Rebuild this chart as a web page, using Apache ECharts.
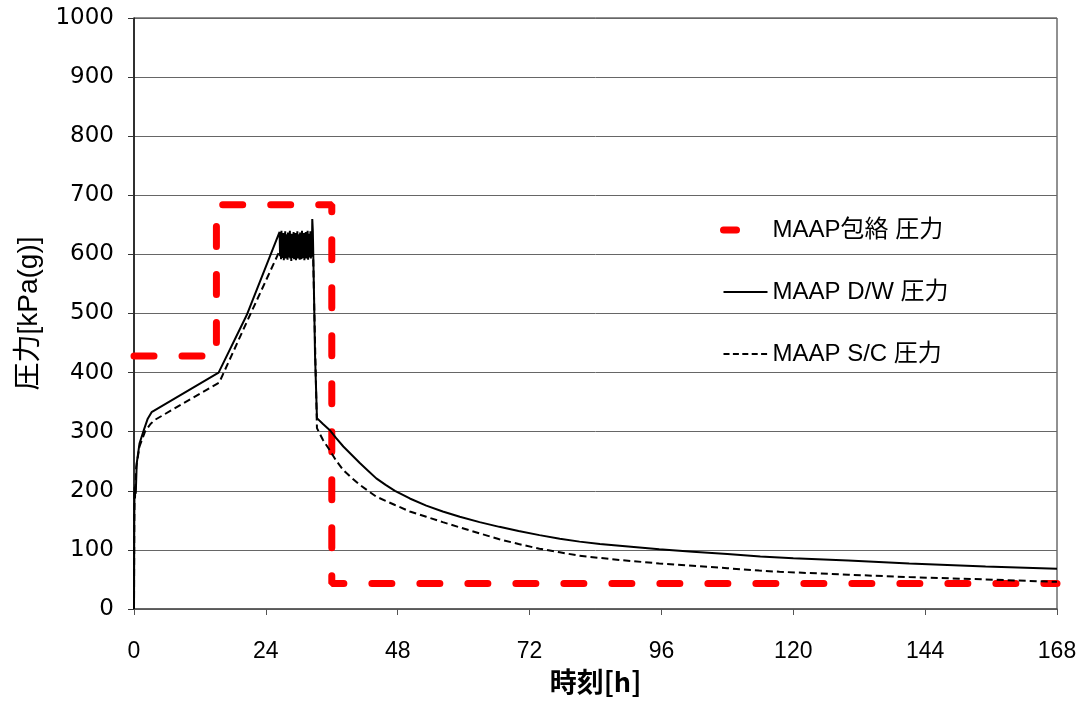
<!DOCTYPE html>
<html>
<head>
<meta charset="utf-8">
<script src="https://cdn.jsdelivr.net/npm/echarts@6/dist/echarts.min.js"></script>
<style>
html,body{margin:0;padding:0;background:#fff;}
#chart{width:1086px;height:702px;}
</style>
</head>
<body>
<div id="chart"></div>
<script>
// Axis ticks
var xTicks = [0, 24, 48, 72, 96, 120, 144, 168];
var yTicks = [0, 100, 200, 300, 400, 500, 600, 700, 800, 900, 1000];

// Series names
var seriesNames = ['MAAP包絡 圧力', 'MAAP D/W 圧力', 'MAAP S/C 圧力'];

// MAAP envelope pressure [time h, kPa(g)]
var envelopePressure = [
  [0, 428], [15, 428], [15, 684], [36, 684], [36, 43], [168, 43]
];

// MAAP D/W pressure [time h, kPa(g)]
var dwPressure = [
  [0, 0], [0.05, 150], [0.1, 206], [0.18, 190], [0.25, 208], [0.32, 195],
  [0.5, 247], [1.0, 280], [1.8, 303], [2.5, 322], [3.2, 333],
  [15.4, 400], [20.5, 497],
  [26.5, 638], [26.59, 597], [26.67, 633], [26.76, 592], [26.84, 640], [26.93, 599],
  [27.01, 629], [27.1, 594], [27.18, 636], [27.27, 590], [27.35, 631], [27.44, 596],
  [27.52, 639], [27.61, 593], [27.69, 626], [27.78, 598], [27.86, 634], [27.95, 591],
  [28.03, 637], [28.12, 595], [28.2, 630], [28.29, 600], [28.37, 640], [28.46, 593],
  [28.54, 628], [28.63, 589], [28.71, 635], [28.8, 597], [28.88, 632], [28.97, 594],
  [29.05, 638], [29.14, 592], [29.22, 627], [29.31, 598], [29.39, 636], [29.48, 590],
  [29.56, 633], [29.65, 596], [29.73, 639], [29.82, 593], [29.9, 630], [29.99, 599],
  [30.07, 634], [30.16, 591], [30.24, 637], [30.33, 595], [30.41, 629], [30.5, 592],
  [30.58, 640], [30.67, 597], [30.75, 632], [30.84, 594], [30.92, 636], [31.01, 590],
  [31.09, 628], [31.18, 598], [31.26, 638], [31.35, 593], [31.43, 633], [31.52, 596],
  [31.6, 640], [31.69, 591], [31.77, 635], [31.86, 595], [31.94, 631], [32.03, 599],
  [32.11, 639], [32.2, 593], [32.28, 636], [32.37, 596],
  [32.45, 660], [32.55, 640], [32.75, 540], [32.95, 430], [33.3, 323],
  [34.4, 313], [35.6, 303], [36.8, 289], [38.1, 275], [39.6, 261], [41.1, 247],
  [42.6, 234], [44.1, 221], [45.8, 210], [47.5, 200], [50.2, 187], [53.2, 175],
  [56.2, 165], [59.3, 156], [62.9, 147], [66.5, 139], [70, 132], [73.8, 125],
  [77.5, 119], [81.1, 114], [84.8, 110], [88.4, 107], [92, 104], [95.6, 101],
  [101.7, 97], [108, 93], [114, 89], [120, 86], [130, 82], [141.1, 77],
  [155, 72], [168, 68]
];

// MAAP S/C pressure [time h, kPa(g)]
var scPressure = [
  [0, 0], [0.05, 140], [0.1, 200], [0.18, 188], [0.25, 205], [0.4, 240],
  [1.0, 275], [2.0, 300], [3.0, 313], [3.8, 320], [15.5, 383], [20.5, 485],
  [26.8, 612], [27.2, 605], [32.4, 605], [32.6, 600], [32.95, 450], [33.3, 306],
  [34.4, 286], [35.6, 269], [36.8, 251], [38.1, 235], [39.6, 222], [41.1, 210],
  [42.6, 200], [44.1, 190], [45.8, 183], [47.5, 176], [50.2, 165], [53.2, 156],
  [56.2, 147], [59.3, 138], [62.9, 128], [66.5, 118], [70, 110], [73.8, 102],
  [77.5, 96], [81.1, 90], [88.4, 83], [95.6, 77], [101.7, 73], [108, 69],
  [113.8, 65], [117.5, 63], [130, 58], [141.1, 54], [155, 50], [168, 46]
];

var latin = '"Liberation Sans", Arial, "Noto Sans CJK JP", sans-serif';
var chart = echarts.init(document.getElementById('chart'));
chart.setOption({
  animation: false,
  backgroundColor: '#ffffff',
  grid: {
    left: 134, right: 29, top: 18, bottom: 93,
    show: true, borderColor: '#222', borderWidth: 1
  },
  legend: {
    orient: 'vertical',
    left: 720, top: 218,
    padding: 0,
    itemWidth: 44, itemHeight: 24, itemGap: 38,
    itemStyle: { opacity: 0 },
    textStyle: { fontSize: 24, fontFamily: latin, color: '#000' },
    data: [
      { name: seriesNames[0], lineStyle: { width: 7, cap: 'round', type: [13, 40] } },
      { name: seriesNames[1], lineStyle: { width: 2 } },
      { name: seriesNames[2], lineStyle: { width: 2, type: [6, 3.4] } }
    ]
  },
  xAxis: {
    type: 'value',
    min: xTicks[0], max: xTicks[xTicks.length - 1], interval: 24,
    name: '時刻[h]',
    nameLocation: 'middle',
    nameGap: 58,
    nameTextStyle: { fontSize: 27, fontWeight: 'bold', color: '#000',
      fontFamily: '"Noto Sans CJK JP", sans-serif' },
    axisLine: { show: true, lineStyle: { color: '#555', width: 1.5 } },
    axisTick: { show: true, inside: false, length: 6, lineStyle: { color: '#555' } },
    axisLabel: { margin: 31, fontSize: 23, color: '#000',
      fontFamily: '"Liberation Sans Narrow", "Arial Narrow", "Liberation Sans", sans-serif' },
    splitLine: { show: false }
  },
  yAxis: {
    type: 'value',
    min: yTicks[0], max: yTicks[yTicks.length - 1], interval: 100,
    name: '圧力[kPa(g)]',
    nameLocation: 'middle',
    nameGap: 91,
    nameTextStyle: { fontSize: 28, color: '#000', fontFamily: latin },
    axisLine: { show: true, lineStyle: { color: '#111', width: 1.5 } },
    axisTick: { show: true, inside: false, length: 6, lineStyle: { color: '#333' } },
    axisLabel: { margin: 20, fontSize: 23, color: '#000',
      fontFamily: '"DejaVu Sans", sans-serif',
      formatter: function (v) { return String(v); } },
    splitLine: { show: true, lineStyle: { color: '#666', width: 1 } }
  },
  series: [
    {
      name: seriesNames[0], type: 'line', data: envelopePressure,
      symbol: 'none', z: 2,
      lineStyle: { color: '#ff0000', width: 7, type: [20, 28], cap: 'round' },
      itemStyle: { color: '#ff0000' }
    },
    {
      name: seriesNames[1], type: 'line', data: dwPressure,
      symbol: 'none', z: 3,
      lineStyle: { color: '#000', width: 2 },
      itemStyle: { color: '#000' }
    },
    {
      name: seriesNames[2], type: 'line', data: scPressure,
      symbol: 'none', z: 3,
      lineStyle: { color: '#000', width: 2, type: [7, 4] },
      itemStyle: { color: '#000' }
    }
  ]
});
</script>
</body>
</html>
